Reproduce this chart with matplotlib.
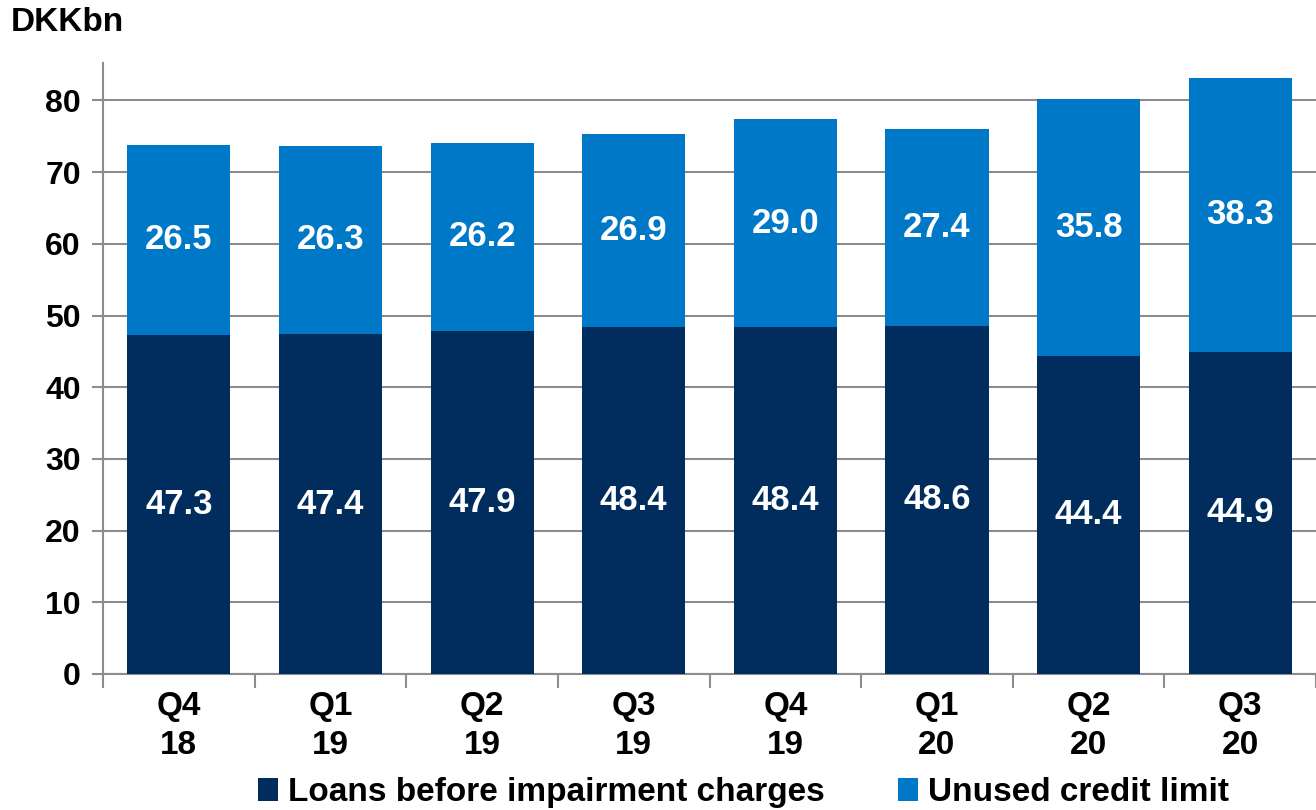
import matplotlib.pyplot as plt
import numpy as np

plt.rcParams['font.family'] = ['Liberation Sans', 'DejaVu Sans']
plt.rcParams['font.weight'] = 'bold'

kvartaler = ['Q4\n18', 'Q1\n19', 'Q2\n19', 'Q3\n19', 'Q4\n19', 'Q1\n20', 'Q2\n20', 'Q3\n20']
udlaan = [47.3, 47.4, 47.9, 48.4, 48.4, 48.6, 44.4, 44.9]
ubrugt = [26.5, 26.3, 26.2, 26.9, 29.0, 27.4, 35.8, 38.3]

moerk = '#002D5E'
blaa = '#0078C8'
graa = '#8C8C8C'

fig = plt.figure(figsize=(13.16, 8.1), dpi=100)
ax = fig.add_axes([0.0783, 0.168, 0.9217, 0.754])

x = np.arange(len(kvartaler))
b1 = ax.bar(x, udlaan, width=0.68, color=moerk, label='Loans before impairment charges', zorder=3)
b2 = ax.bar(x, ubrugt, width=0.68, bottom=udlaan, color=blaa, label='Unused credit limit', zorder=3)

# værdier midt i hvert segment
for i in range(len(x)):
    ax.text(x[i], udlaan[i] / 2, f'{udlaan[i]:.1f}', ha='center', va='center',
            color='white', fontsize=25, fontweight='bold', zorder=4)
    ax.text(x[i], udlaan[i] + ubrugt[i] / 2, f'{ubrugt[i]:.1f}', ha='center', va='center',
            color='white', fontsize=25, fontweight='bold', zorder=4)

ax.set_xlim(-0.5, len(x) - 0.5)
ax.set_ylim(0, 85.2)
ax.set_yticks(range(0, 81, 10))
ax.set_xticks(x)
ax.set_xticklabels(kvartaler)
ax.set_xticks(np.arange(-0.5, len(x), 1), minor=True)

ax.grid(axis='y', color=graa, linewidth=1.5, zorder=0)
for s in ['top', 'right']:
    ax.spines[s].set_visible(False)
for s in ['left', 'bottom']:
    ax.spines[s].set_color(graa)
    ax.spines[s].set_linewidth(1.5)

ax.tick_params(axis='y', length=8, width=1.5, color=graa, labelsize=23, pad=8)
ax.tick_params(axis='x', which='major', length=0, labelsize=24, pad=12)
ax.tick_params(axis='x', which='minor', length=10, width=1.5, color=graa)
for lbl in ax.get_xticklabels() + ax.get_yticklabels():
    lbl.set_fontweight('bold')
for lbl in ax.get_xticklabels():
    lbl.set_linespacing(1.35)

fig.text(0.008, 0.972, 'DKKbn', fontsize=24, fontweight='bold', va='center', ha='left')

fig.legend(handles=[b1, b2], loc='center', bbox_to_anchor=(0.565, 0.021), ncol=2,
           frameon=False, fontsize=24, handlelength=0.6, handleheight=0.7,
           handletextpad=0.3, columnspacing=2.2, borderaxespad=0)

fig.savefig('out.png', dpi=100)
